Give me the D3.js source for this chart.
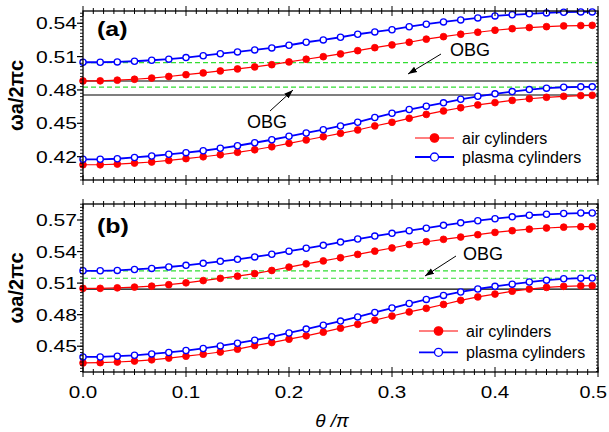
<!DOCTYPE html>
<html lang="en">
<head>
  <meta charset="UTF-8">
  <title>OBG bands</title>
  <script src="https://cdn.jsdelivr.net/npm/d3@7"></script>
  <style>
    body { margin: 0; background: #fff; }
    text { font-family: "Liberation Sans", Arial, sans-serif; }
  </style>
</head>
<body>
  <svg width="609" height="432"></svg>
  <script>
    // theta / pi sample points
    var theta = [0, 0.0167, 0.0333, 0.05, 0.0667, 0.0833, 0.1, 0.1167, 0.1333, 0.15,
      0.1667, 0.1833, 0.2, 0.2167, 0.2333, 0.25, 0.2667, 0.2833, 0.3, 0.3167,
      0.3333, 0.35, 0.3667, 0.3833, 0.4, 0.4167, 0.4333, 0.45, 0.4667, 0.4833, 0.4944];

    // panel (a)
    var airUpperA = [0.4881, 0.4882, 0.4888, 0.4896, 0.4907, 0.4921, 0.4937, 0.4953, 0.4971, 0.4989,
      0.5007, 0.5027, 0.5052, 0.5076, 0.5099, 0.5124, 0.5153, 0.5180, 0.5205, 0.5229,
      0.5257, 0.5279, 0.5301, 0.5319, 0.5337, 0.5351, 0.5361, 0.5369, 0.5376, 0.5379, 0.5381];
    var plasmaUpperA = [0.5049, 0.5049, 0.5052, 0.5058, 0.5067, 0.5077, 0.5091, 0.5108, 0.5126, 0.5142,
      0.5160, 0.5178, 0.5202, 0.5229, 0.5250, 0.5274, 0.5301, 0.5322, 0.5342, 0.5369,
      0.5391, 0.5412, 0.5430, 0.5448, 0.5466, 0.5476, 0.5485, 0.5493, 0.5499, 0.5502, 0.5502];
    var airLowerA = [0.4127, 0.4127, 0.4133, 0.4142, 0.4152, 0.4166, 0.4182, 0.4199, 0.4217, 0.4239,
      0.4262, 0.4289, 0.4320, 0.4350, 0.4379, 0.4410, 0.4440, 0.4476, 0.4509, 0.4545,
      0.4580, 0.4611, 0.4640, 0.4665, 0.4686, 0.4706, 0.4721, 0.4734, 0.4743, 0.4749, 0.4752];
    var plasmaLowerA = [0.4176, 0.4176, 0.4181, 0.4193, 0.4206, 0.4221, 0.4236, 0.4253, 0.4275, 0.4298,
      0.4325, 0.4352, 0.4383, 0.4413, 0.4443, 0.4476, 0.4510, 0.4552, 0.4590, 0.4624,
      0.4654, 0.4684, 0.4716, 0.4743, 0.4765, 0.4785, 0.4803, 0.4816, 0.4824, 0.4828, 0.4828];
    var blackLinesA = [0.4881, 0.4755];
    var greenLinesA = [0.5045, 0.4826];
    var yTicksA = [0.42, 0.45, 0.48, 0.51, 0.54];

    // panel (b)
    var airUpperB = [0.5050, 0.5050, 0.5055, 0.5062, 0.5071, 0.5085, 0.5103, 0.5124, 0.5145, 0.5166,
      0.5190, 0.5220, 0.5252, 0.5283, 0.5311, 0.5341, 0.5373, 0.5404, 0.5434, 0.5467,
      0.5493, 0.5516, 0.5538, 0.5560, 0.5582, 0.5598, 0.5613, 0.5624, 0.5632, 0.5636, 0.5637];
    var plasmaUpperB = [0.5217, 0.5217, 0.5221, 0.5230, 0.5240, 0.5253, 0.5269, 0.5288, 0.5307, 0.5326,
      0.5349, 0.5374, 0.5404, 0.5431, 0.5459, 0.5490, 0.5519, 0.5547, 0.5573, 0.5598,
      0.5622, 0.5649, 0.5673, 0.5693, 0.5712, 0.5730, 0.5745, 0.5754, 0.5761, 0.5766, 0.5767];
    var airLowerB = [0.4341, 0.4344, 0.4350, 0.4359, 0.4371, 0.4387, 0.4405, 0.4424, 0.4445, 0.4472,
      0.4506, 0.4535, 0.4567, 0.4599, 0.4634, 0.4672, 0.4708, 0.4748, 0.4787, 0.4826,
      0.4860, 0.4897, 0.4936, 0.4969, 0.4996, 0.5023, 0.5043, 0.5059, 0.5069, 0.5074, 0.5075];
    var plasmaLowerB = [0.4398, 0.4398, 0.4405, 0.4414, 0.4427, 0.4441, 0.4459, 0.4479, 0.4503, 0.4529,
      0.4558, 0.4590, 0.4626, 0.4663, 0.4700, 0.4739, 0.4779, 0.4821, 0.4863, 0.4906,
      0.4945, 0.4983, 0.5016, 0.5044, 0.5069, 0.5090, 0.5110, 0.5128, 0.5141, 0.5147, 0.5148];
    var blackLinesB = [0.5043];
    var greenLinesB = [0.5217, 0.5146];
    var yTicksB = [0.45, 0.48, 0.51, 0.54, 0.57];

    var xTicks = [0.0, 0.1, 0.2, 0.3, 0.4, 0.5];
    var legendNames = ["air cylinders", "plasma cylinders"];

    var svg = d3.select("svg");
    var left = 83, right = 598;

    var x = d3.scaleLinear().domain([0, 0.5]).range([left, right]);

    // text in the original is wider than normal Arial
    function wideText(g, str, px, py, size, weight, anchor, sx) {
      return g.append("text")
        .attr("transform", "translate(" + px + "," + py + ") scale(" + sx + ",1)")
        .attr("font-size", size)
        .attr("font-weight", weight)
        .attr("text-anchor", anchor)
        .text(str);
    }

    svg.append("defs").append("marker")
      .attr("id", "head")
      .attr("viewBox", "0 0 10 10")
      .attr("refX", 10).attr("refY", 5)
      .attr("markerWidth", 9).attr("markerHeight", 9)
      .attr("markerUnits", "userSpaceOnUse")
      .attr("orient", "auto")
      .append("path").attr("d", "M0,1.5 L10,5 L0,8.5 Z").attr("fill", "#000");

    function drawPanel(p) {
      var y = d3.scaleLinear().domain(p.domain).range([p.bottom, p.top]);
      var g = svg.append("g");

      // band edge lines
      g.selectAll(".green").data(p.green).enter().append("line")
        .attr("x1", left).attr("x2", right)
        .attr("y1", d => y(d)).attr("y2", d => y(d))
        .attr("stroke", "#33dd33").attr("stroke-width", 1.2)
        .attr("stroke-dasharray", "5,3");
      g.selectAll(".black").data(p.black).enter().append("line")
        .attr("x1", left).attr("x2", right)
        .attr("y1", d => y(d)).attr("y2", d => y(d))
        .attr("stroke", "#000").attr("stroke-width", 1.1);

      var line = d3.line().x((d, i) => x(theta[i])).y(d => y(d));

      var series = [
        { v: p.airLower, air: true }, { v: p.airUpper, air: true },
        { v: p.plasmaLower, air: false }, { v: p.plasmaUpper, air: false }
      ];
      series.forEach(function (s) {
        g.append("path").datum(s.v)
          .attr("d", line)
          .attr("fill", "none")
          .attr("stroke", s.air ? "#ff0000" : "#0000ff")
          .attr("stroke-width", s.air ? 1.2 : 1.8);
        g.selectAll(null).data(s.v).enter().append("circle")
          .attr("cx", (d, i) => x(theta[i]))
          .attr("cy", d => y(d))
          .attr("r", s.air ? 3.4 : 3.1)
          .attr("fill", s.air ? "#ff0000" : "#fff")
          .attr("stroke", s.air ? "#ff0000" : "#0000ff")
          .attr("stroke-width", s.air ? 0.8 : 1.3);
      });

      // frame
      g.append("rect")
        .attr("x", left).attr("y", p.top)
        .attr("width", right - left).attr("height", p.bottom - p.top)
        .attr("fill", "none").attr("stroke", "#000").attr("stroke-width", 1.3);

      // x ticks on bottom and top edges
      var xMinor = d3.range(0, 51).map(d => d / 100);
      [p.bottom, p.top].forEach(function (edge) {
        g.selectAll(null).data(xMinor).enter().append("line")
          .attr("x1", d => x(d)).attr("x2", d => x(d))
          .attr("y1", d => edge - (Math.round(d * 100) % 10 === 0 ? 5 : 3))
          .attr("y2", d => edge + (Math.round(d * 100) % 10 === 0 ? 5 : 3))
          .attr("stroke", "#000").attr("stroke-width", 1);
      });

      // y ticks, outward on the left, inward on the right
      var yMinor = d3.range(Math.ceil(p.domain[0] / 0.003), Math.floor(p.domain[1] / 0.003) + 1)
        .map(d => d * 0.003);
      g.selectAll(null).data(yMinor).enter().append("line")
        .attr("x1", left - 3).attr("x2", left)
        .attr("y1", d => y(d)).attr("y2", d => y(d))
        .attr("stroke", "#000").attr("stroke-width", 0.9);
      g.selectAll(null).data(yMinor).enter().append("line")
        .attr("x1", right - 2).attr("x2", right)
        .attr("y1", d => y(d)).attr("y2", d => y(d))
        .attr("stroke", "#000").attr("stroke-width", 0.9);
      g.selectAll(null).data(p.yTicks).enter().append("line")
        .attr("x1", left - 6).attr("x2", left)
        .attr("y1", d => y(d)).attr("y2", d => y(d))
        .attr("stroke", "#000").attr("stroke-width", 1.2);
      p.yTicks.forEach(function (t) {
        wideText(g, d3.format(".2f")(t), left - 6, y(t) + 6, 16.5, "normal", "end", 1.28);
      });

      if (p.xLabels) {
        xTicks.forEach(function (t, i) {
          // last label would run past the page edge, so pin its right end
          if (i === xTicks.length - 1) {
            wideText(g, d3.format(".1f")(t), 607, p.bottom + 26, 16.5, "normal", "end", 1.2);
          } else {
            wideText(g, d3.format(".1f")(t), x(t), p.bottom + 26, 16.5, "normal", "middle", 1.25);
          }
        });
      }

      wideText(g, p.label, 97, p.labelY, 20, "bold", "start", 1.25);

      g.append("text")
        .attr("transform", "translate(23," + ((p.top + p.bottom) / 2) + ") rotate(-90)")
        .attr("text-anchor", "middle")
        .attr("font-size", 20).attr("font-weight", "bold")
        .text("ωa/2πc");

      // OBG annotations
      p.obg.forEach(function (o) {
        g.append("text").attr("x", o.tx).attr("y", o.ty)
          .attr("font-size", 18).text("OBG");
        g.append("line")
          .attr("x1", o.x1).attr("y1", o.y1).attr("x2", o.x2).attr("y2", o.y2)
          .attr("stroke", "#000").attr("stroke-width", 1)
          .attr("marker-end", "url(#head)");
      });

      // legend
      legendNames.forEach(function (name, i) {
        var ly = p.legY + i * p.legGap;
        var air = i === 0;
        g.append("line")
          .attr("x1", p.legX).attr("x2", p.legX + 39)
          .attr("y1", ly).attr("y2", ly)
          .attr("stroke", air ? "#ff0000" : "#0000ff")
          .attr("stroke-width", air ? 1.2 : 1.8);
        g.append("circle")
          .attr("cx", p.legX + 19.5).attr("cy", ly)
          .attr("r", air ? 4.2 : 4)
          .attr("fill", air ? "#ff0000" : "#fff")
          .attr("stroke", air ? "#ff0000" : "#0000ff")
          .attr("stroke-width", 1.3);
        g.append("text")
          .attr("x", p.legX + 47).attr("y", ly + 6)
          .attr("font-size", 16).text(name);
      });
    }

    drawPanel({
      top: 11, bottom: 180, domain: [0.399, 0.551],
      airUpper: airUpperA, plasmaUpper: plasmaUpperA,
      airLower: airLowerA, plasmaLower: plasmaLowerA,
      black: blackLinesA, green: greenLinesA, yTicks: yTicksA,
      xLabels: false, label: "(a)", labelY: 36,
      obg: [
        { tx: 450, ty: 56, x1: 441, y1: 54, x2: 408, y2: 74 },
        { tx: 247, ty: 128, x1: 270, y1: 111, x2: 293, y2: 90 }
      ],
      legX: 415, legY: 138, legGap: 19
    });

    drawPanel({
      top: 204, bottom: 372, domain: [0.4255, 0.5852],
      airUpper: airUpperB, plasmaUpper: plasmaUpperB,
      airLower: airLowerB, plasmaLower: plasmaLowerB,
      black: blackLinesB, green: greenLinesB, yTicks: yTicksB,
      xLabels: true, label: "(b)", labelY: 233,
      obg: [
        { tx: 463, ty: 260, x1: 456, y1: 256, x2: 425, y2: 276 }
      ],
      legX: 419, legY: 331, legGap: 21.3
    });

    svg.append("text")
      .attr("x", 332).attr("y", 427)
      .attr("text-anchor", "middle")
      .attr("font-family", "'Liberation Serif', 'Times New Roman', serif")
      .attr("font-style", "italic")
      .attr("font-size", 19)
      .text("θ /π");
  </script>
</body>
</html>
